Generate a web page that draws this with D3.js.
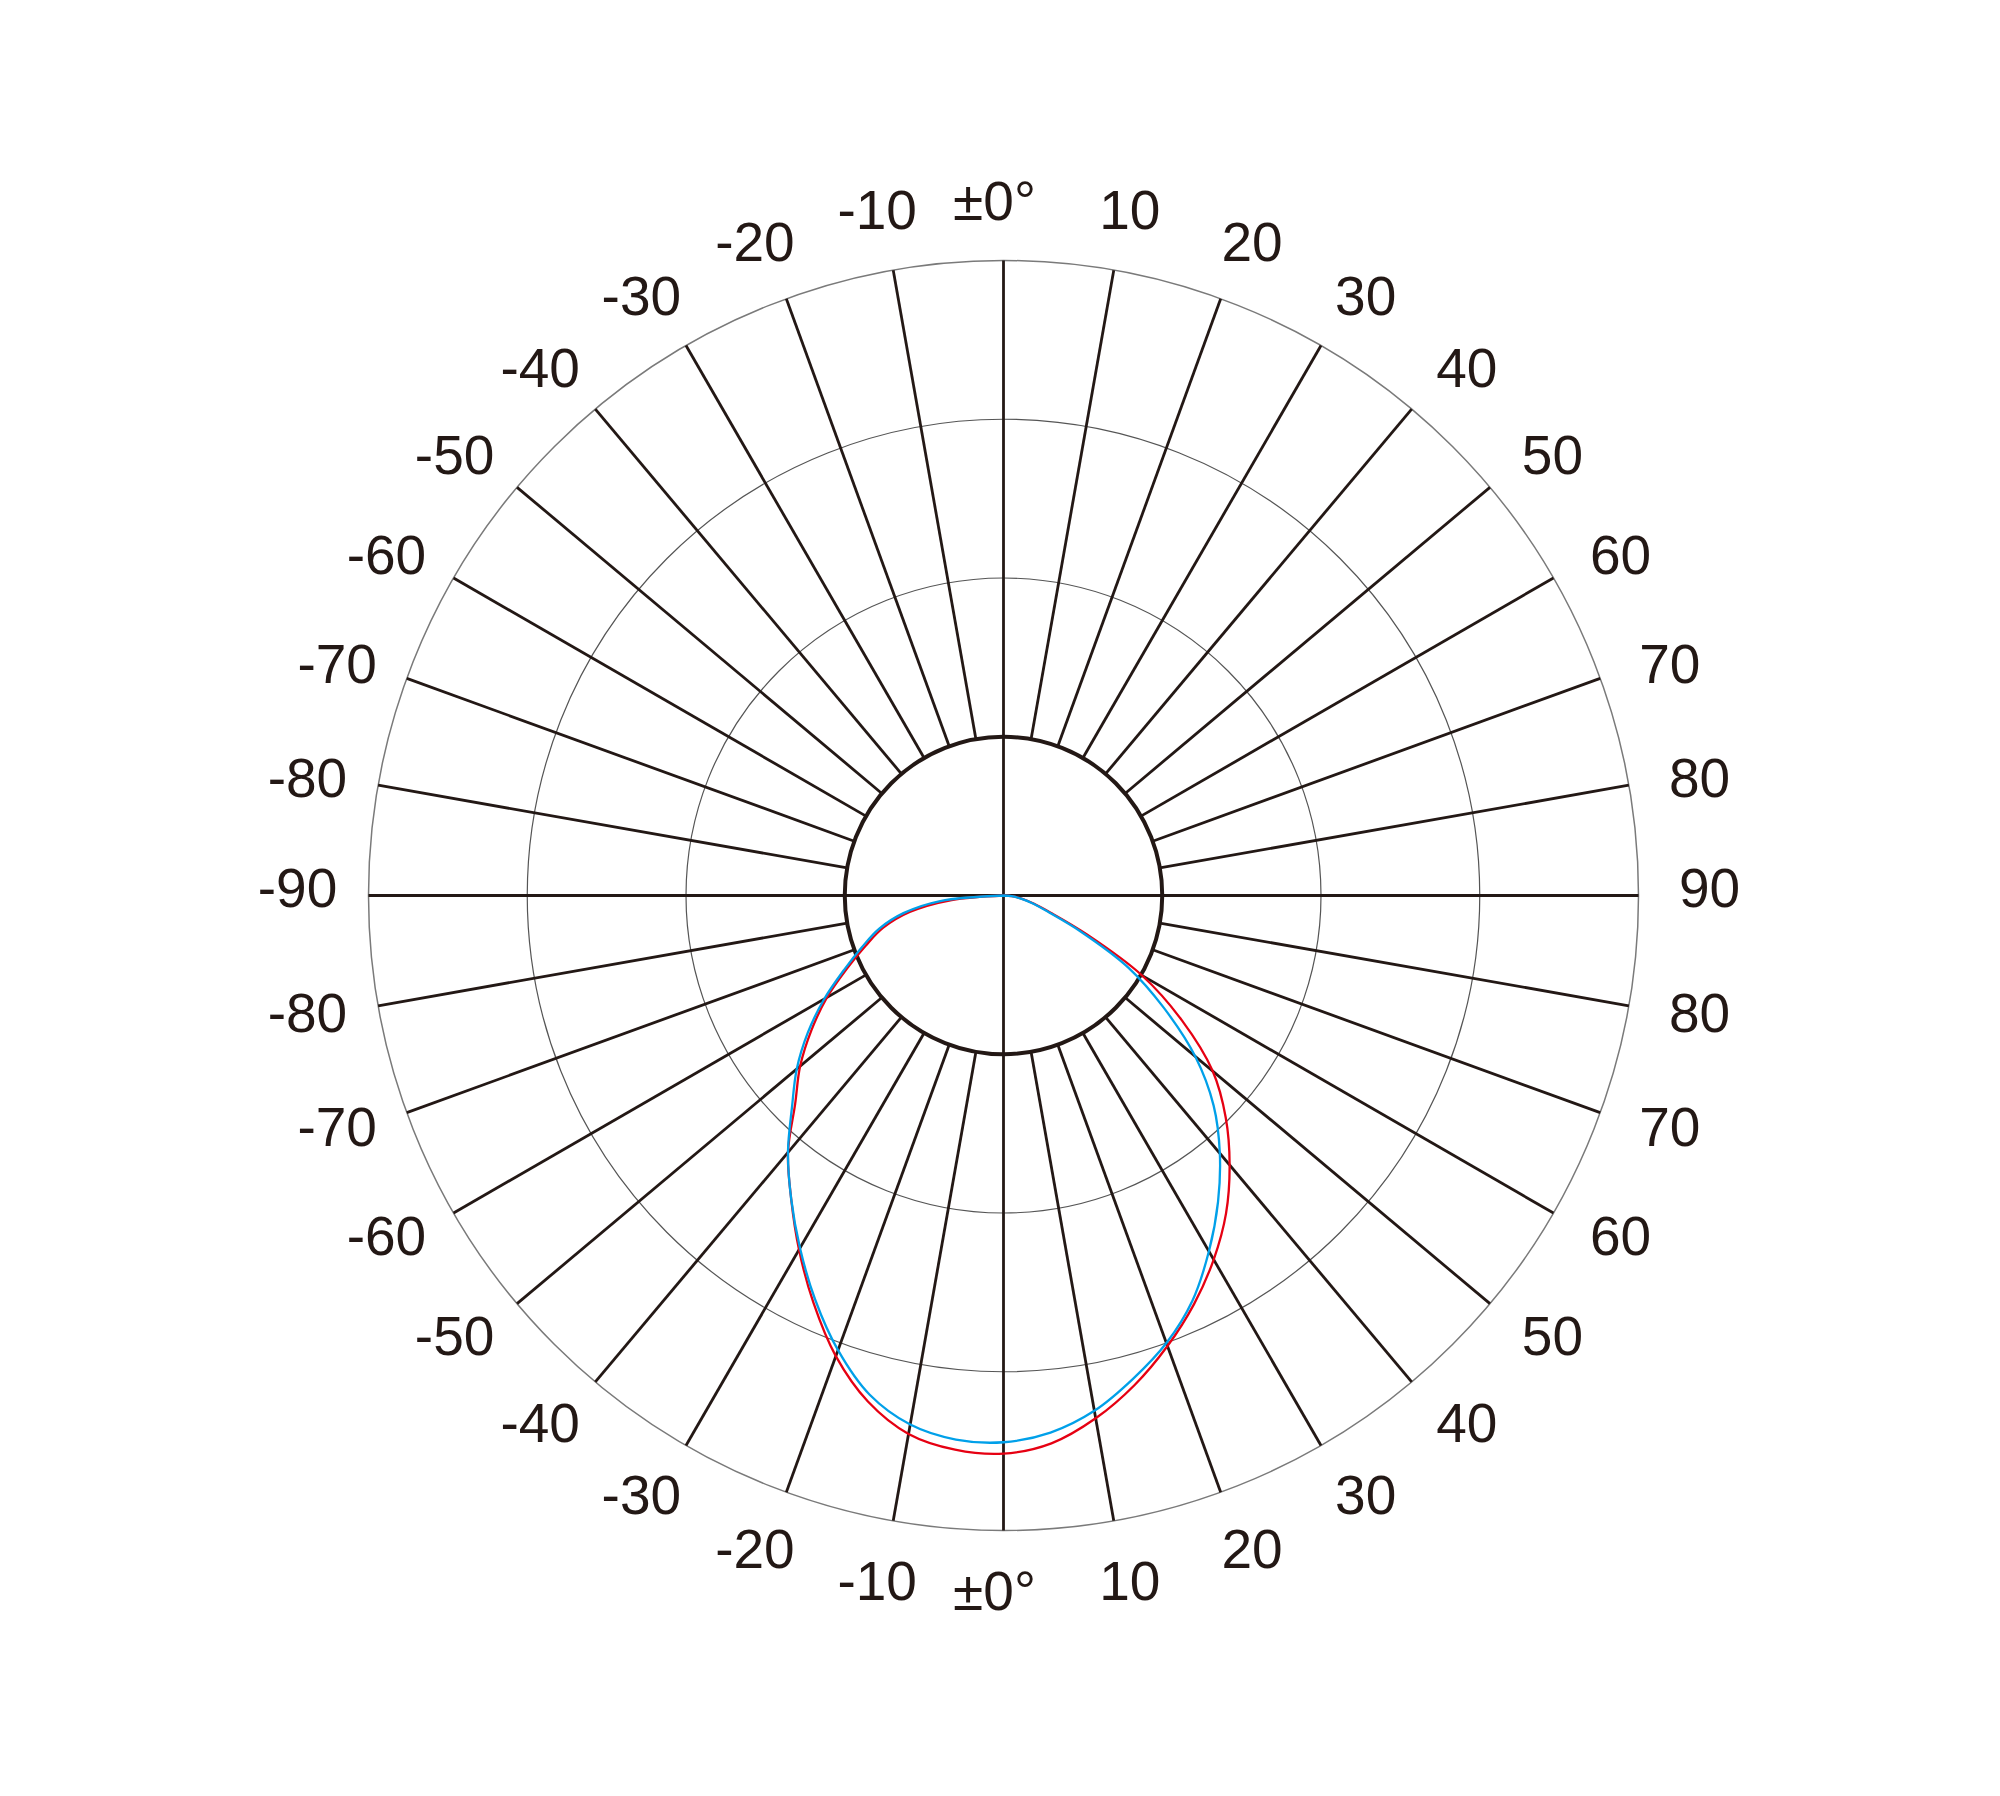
<!DOCTYPE html>
<html>
<head>
<meta charset="utf-8">
<script src="https://cdn.jsdelivr.net/npm/d3@7"></script>
<style>
html,body{margin:0;padding:0;background:#ffffff;}
svg{display:block;}
</style>
</head>
<body>
<svg id="chart" width="2000" height="1796"></svg>
<script>
// ---- data ----
const angles = [-90,-85,-80,-75,-70,-65,-60,-55,-50,-45,-40,-35,-30,-25,-20,-15,-10,-5,0,5,10,15,20,25,30,35,40,45,50,55,60,65,70,75,80,85,90];
const redValues = [0,8.2,15.0,19.6,23.1,27.2,32.1,36.9,41.8,46.4,52.8,58.3,64.4,70.8,77.2,82.5,86.1,87.6,87.9,86.6,83.6,79.8,75.5,71.0,66.2,61.1,55.4,49.5,43.0,34.3,25.2,14.5,7.9,4.9,3.0,1.3,0];
const blueValues = [0,10.0,16.0,20.3,23.7,27.7,32.6,37.6,42.5,47.1,52.8,58.3,64.1,70.2,76.2,81.4,84.6,86.0,86.1,84.9,82.4,78.8,75.0,70.4,64.7,58.9,53.0,46.8,39.4,30.8,22.7,13.4,7.4,4.7,2.8,1.3,0];
const ringValues = [25,50,75,100];
const hubValue = 25;
const spokeAngles = [-80,-70,-60,-50,-40,-30,-20,-10,10,20,30,40,50,60,70,80];
const topLabelAngles = [-90,-80,-70,-60,-50,-40,-30,-20,-10,0,10,20,30,40,50,60,70,80,90];
const topLabels = ["-90","-80","-70","-60","-50","-40","-30","-20","-10","\u00B10\u00B0","10","20","30","40","50","60","70","80","90"];
const bottomLabelAngles = [-80,-70,-60,-50,-40,-30,-20,-10,0,10,20,30,40,50,60,70,80];
const bottomLabels = ["-80","-70","-60","-50","-40","-30","-20","-10","\u00B10\u00B0","10","20","30","40","50","60","70","80"];

// ---- layout ----
const cx = 1003.5, cy = 895.5, R = 635;
const ink = "#231815";
const svg = d3.select("#chart");
svg.append("rect").attr("width",2000).attr("height",1796).attr("fill","#fff");
const g = svg.append("g").attr("transform",`translate(${cx},${cy})`);

const r = d3.scaleLinear().domain([0,100]).range([0,R]);
// angle measured from downward direction (bottom half), positive to the right
const aDown = d3.scaleLinear().domain([-90,90]).range([Math.PI*1.5, Math.PI*0.5]);
const aUp = d3.scaleLinear().domain([-90,90]).range([-Math.PI*0.5, Math.PI*0.5]);
const px = (a, rad) => rad*Math.sin(a);
const py = (a, rad) => -rad*Math.cos(a);

// rings
g.selectAll("circle.ring").data(ringValues.filter(v=>v!==hubValue)).join("circle")
  .attr("class","ring").attr("r",d=>r(d)).attr("fill","none")
  .attr("stroke", d=> d===100 ? "#7a7a7a" : "#555555")
  .attr("stroke-width", d=> d===100 ? 1.5 : 1.2);

// spokes (top and bottom)
const spokes = [];
spokeAngles.forEach(v=>{ spokes.push(aUp(v)); spokes.push(aDown(v)); });
g.selectAll("line.spoke").data(spokes).join("line")
  .attr("class","spoke")
  .attr("x1",a=>px(a,r(hubValue))).attr("y1",a=>py(a,r(hubValue)))
  .attr("x2",a=>px(a,r(100))).attr("y2",a=>py(a,r(100)))
  .attr("stroke",ink).attr("stroke-width",2.8);

// axes through center
[[aUp(0),aDown(0)],[aUp(-90),aUp(90)]].forEach(([a1,a2])=>{
  g.append("line")
    .attr("x1",px(a1,r(100))).attr("y1",py(a1,r(100)))
    .attr("x2",px(a2,r(100))).attr("y2",py(a2,r(100)))
    .attr("stroke",ink).attr("stroke-width",2.8);
});

// hub circle
g.append("circle").attr("r",r(hubValue)).attr("fill","none")
  .attr("stroke",ink).attr("stroke-width",4);

// curves
const radial = d3.lineRadial()
  .angle((d,i)=>aDown(angles[i]))
  .radius(d=>r(d))
  .curve(d3.curveCatmullRom.alpha(0.5));
g.append("path").attr("d",radial(redValues)).attr("fill","none")
  .attr("stroke","#e60012").attr("stroke-width",2.3);
g.append("path").attr("d",radial(blueValues)).attr("fill","none")
  .attr("stroke","#00a0e9").attr("stroke-width",2.3);

// labels
const labelR = a => 695 + 11*Math.abs(Math.sin(a));
const fontStack = "'Liberation Sans', Arial, Helvetica, sans-serif";
function addLabels(list, angs, scale){
  const pos = (i)=>{
    const v = angs[i];
    const shift = Math.sign(v) * 1.3 * Math.abs(Math.sin(2*v*Math.PI/180));
    return scale(v + shift);
  };
  g.selectAll(null).data(list).join("text")
    .attr("x",(d,i)=>{ const a=pos(i); return px(a,labelR(a)) + (angs[i]===0 ? -9 : 0); })
    .attr("y",(d,i)=>{ const a=pos(i); return py(a,labelR(a)) + (Math.abs(angs[i])===90 ? -8 : 0); })
    .attr("text-anchor","middle")
    .attr("dominant-baseline","central")
    .attr("font-family",fontStack)
    .attr("font-size",55)
    .attr("fill",ink)
    .text(d=>d);
}
addLabels(topLabels, topLabelAngles, aUp);
addLabels(bottomLabels, bottomLabelAngles, aDown);
</script>
</body>
</html>
